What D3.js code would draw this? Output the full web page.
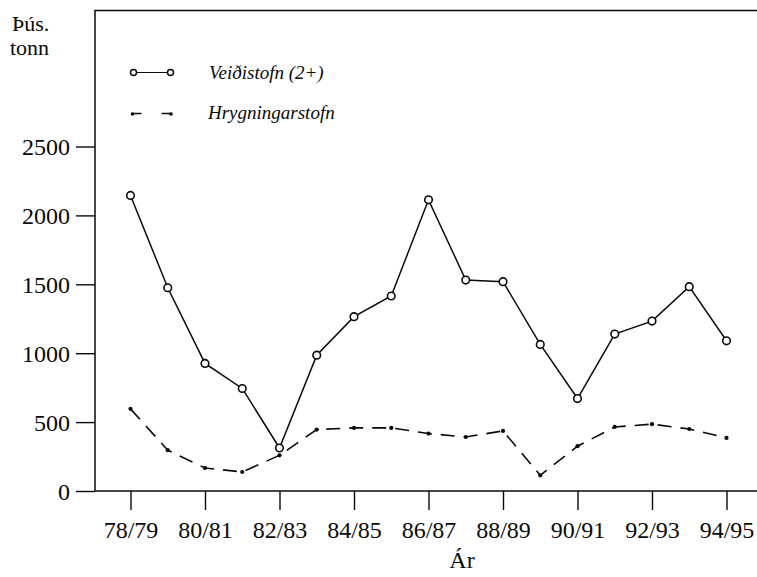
<!DOCTYPE html>
<html>
<head>
<meta charset="utf-8">
<script src="https://cdn.jsdelivr.net/npm/d3@7"></script>
<style>
  html, body { margin: 0; padding: 0; background: #fff; }
  svg { display: block; }
  text { font-family: "Liberation Serif", "Times New Roman", serif; fill: #0a0a0a; }
</style>
</head>
<body>
<svg id="chart" width="757" height="577"></svg>
<script>
// Fishing seasons (x axis)
const seasons = ["78/79","79/80","80/81","81/82","82/83","83/84","84/85","85/86","86/87",
                 "87/88","88/89","89/90","90/91","91/92","92/93","93/94","94/95"];
// Labelled seasons on the x axis
const seasonTicks = ["78/79","80/81","82/83","84/85","86/87","88/89","90/91","92/93","94/95"];
// Fishable stock (2+), thousand tonnes
const veidistofn = [2145, 1475, 926, 744, 312, 986, 1265, 1415, 2113, 1531, 1519, 1064, 671, 1139, 1233, 1483, 1090];
// Spawning stock, thousand tonnes
const hrygningarstofn = [596, 296, 167, 138, 259, 446, 458, 458, 417, 392, 436, 114, 325, 465, 485, 450, 385];
// Y axis tick values
const yTicks = [0, 500, 1000, 1500, 2000, 2500];

const svg = d3.select("#chart");
const ink = "#0a0a0a";

const frameLeft = 95, frameTop = 10.5, frameBottom = 491, frameRight = 760;

const x = d3.scalePoint().domain(seasons).range([130.5, 726.5]);
const y = d3.scaleLinear().domain([0, 2500]).range([frameBottom, 146.5]);

// Frame: top and left edges plus the base line
svg.append("path")
  .attr("d", `M${frameRight},${frameTop}H${frameLeft}V${frameBottom}H${frameRight}`)
  .attr("fill", "none").attr("stroke", ink).attr("stroke-width", 1.5);

// Y axis
const yAxis = svg.append("g").attr("transform", `translate(${frameLeft},0)`)
  .call(d3.axisLeft(y).tickValues(yTicks).tickSize(19).tickPadding(6).tickFormat(d3.format("d")));
yAxis.select(".domain").remove();
yAxis.selectAll("line").attr("stroke", ink).attr("stroke-width", 1.4);
yAxis.selectAll("text").attr("font-size", 24).attr("dy", "0.34em")
  .style("font-family", '"Liberation Serif", serif').attr("fill", ink);

// X axis
const xAxis = svg.append("g").attr("transform", `translate(0,${frameBottom})`)
  .call(d3.axisBottom(x).tickValues(seasonTicks).tickSize(19).tickPadding(11));
xAxis.select(".domain").remove();
xAxis.selectAll("line").attr("stroke", ink).attr("stroke-width", 1.4);
xAxis.selectAll("text").attr("font-size", 24)
  .style("font-family", '"Liberation Serif", serif').attr("fill", ink);

// Axis titles
svg.append("text").attr("x", 12).attr("y", 31).attr("font-size", 22).text("Þús.");
svg.append("text").attr("x", 10).attr("y", 55).attr("font-size", 22).text("tonn");
svg.append("text").attr("x", 462).attr("y", 568).attr("font-size", 24)
  .attr("text-anchor", "middle").text("Ár");

// Spawning stock: dashed line with small dots
const line = d3.line().x((d, i) => x(seasons[i])).y(d => y(d));
svg.append("path").datum(hrygningarstofn)
  .attr("d", line).attr("fill", "none").attr("stroke", ink)
  .attr("stroke-width", 1.6).attr("stroke-dasharray", "14,9");
svg.append("g").selectAll("circle").data(hrygningarstofn).join("circle")
  .attr("cx", (d, i) => x(seasons[i])).attr("cy", d => y(d))
  .attr("r", 2.1).attr("fill", ink);

// Fishable stock: solid line with open circles
svg.append("path").datum(veidistofn)
  .attr("d", line).attr("fill", "none").attr("stroke", ink).attr("stroke-width", 1.5);
svg.append("g").selectAll("circle").data(veidistofn).join("circle")
  .attr("cx", (d, i) => x(seasons[i])).attr("cy", d => y(d))
  .attr("r", 3.8).attr("fill", "#fff").attr("stroke", ink).attr("stroke-width", 1.6);

// Legend
const lg = svg.append("g");
lg.append("line").attr("x1", 133.5).attr("x2", 170.5).attr("y1", 72.5).attr("y2", 72.5)
  .attr("stroke", ink).attr("stroke-width", 1.2);
[133.5, 170.5].forEach(cx => lg.append("circle").attr("cx", cx).attr("cy", 72.5).attr("r", 3)
  .attr("fill", "#fff").attr("stroke", ink).attr("stroke-width", 1.5));
lg.append("text").attr("x", 209).attr("y", 79).attr("font-size", 19)
  .attr("font-style", "italic").text("Veiðistofn (2+)");

lg.append("line").attr("x1", 131.5).attr("x2", 141.5).attr("y1", 113.5).attr("y2", 113.5)
  .attr("stroke", ink).attr("stroke-width", 1.5);
lg.append("line").attr("x1", 161.5).attr("x2", 171.5).attr("y1", 113.5).attr("y2", 113.5)
  .attr("stroke", ink).attr("stroke-width", 1.5);
[132.5, 171].forEach(cx => lg.append("circle").attr("cx", cx).attr("cy", 114).attr("r", 1.8).attr("fill", ink));
lg.append("text").attr("x", 208).attr("y", 119).attr("font-size", 19)
  .attr("font-style", "italic").text("Hrygningarstofn");
</script>
</body>
</html>
